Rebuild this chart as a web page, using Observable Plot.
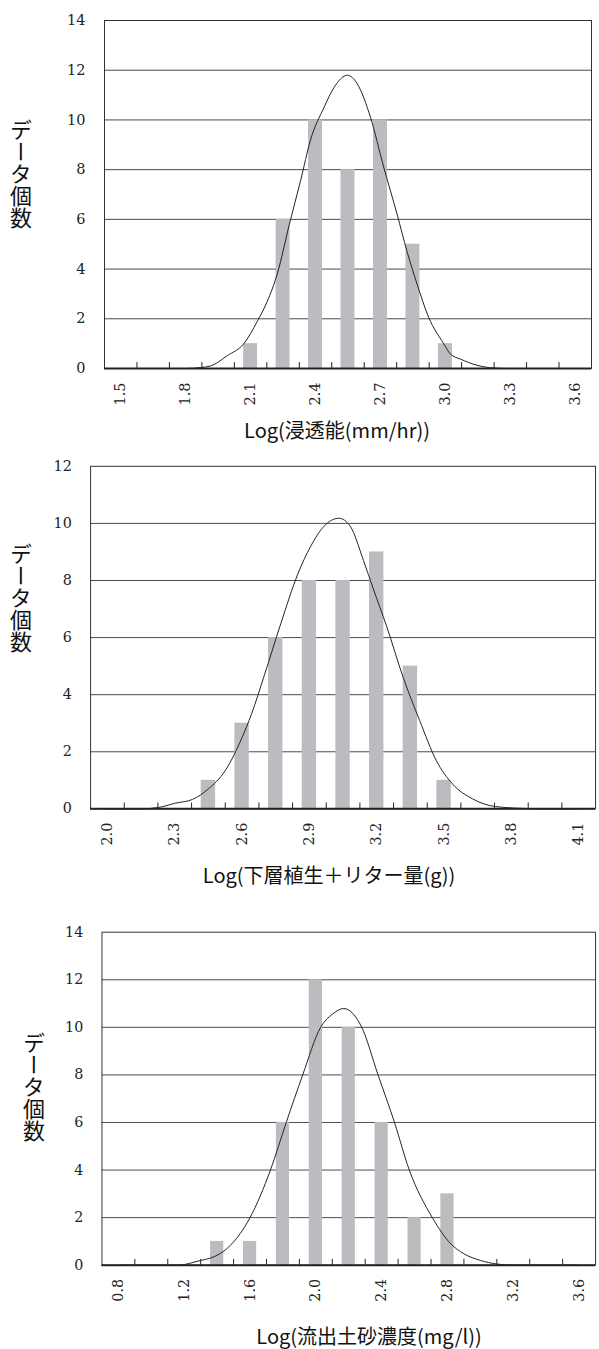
<!DOCTYPE html>
<html><head><meta charset="utf-8">
<script src="https://cdn.jsdelivr.net/npm/d3@7"></script>
<script src="https://cdn.jsdelivr.net/npm/@observablehq/plot@0.6"></script>
<style>
html,body{margin:0;padding:0;background:#fff;overflow:hidden;width:599px;height:1349px}
#root{position:relative;width:599px;height:1349px;overflow:hidden}
.chart{position:absolute;left:0}
.chart svg text{font-family:"DejaVu Serif",serif !important;font-size:14.5px !important;fill:#222}
.ylab{position:absolute;writing-mode:vertical-rl;font-family:"Noto Sans CJK JP";font-size:22px;line-height:22px;transform:translate(-50%,-50%);color:#111;white-space:nowrap}
.xlab{position:absolute;font-family:"Noto Sans CJK JP";font-size:20px;line-height:20px;transform:translate(-50%,-50%);white-space:nowrap;color:#111}
</style></head><body><div id="root"></div>
<script>
// ---- Chart 1: Log(浸透能(mm/hr)) ----
const cats1 = [1.5,1.65,1.8,1.95,2.1,2.25,2.4,2.55,2.7,2.85,3.0,3.15,3.3,3.45,3.6];
const counts1 = [0,0,0,0,1,6,10,8,10,5,1,0,0,0,0];
const ticks1 = [1.5,1.8,2.1,2.4,2.7,3.0,3.3,3.6];
const curveX1 = [1.5,1.65,1.8,1.87,1.915,1.993,2.069,2.131,2.177,2.223,2.279,2.331,2.377,2.439,2.485,2.547,2.593,2.654,2.715,2.777,2.823,2.869,2.923,2.992,3.023,3.069,3.146,3.223,3.3,3.45,3.6];
const curveY1 = [0,0,0,0.04,0.1,0.52,1.0,1.9,2.7,3.8,5.8,7.56,9.2,10.5,11.3,11.8,11.45,10.1,8.1,6.2,4.7,3.4,2.05,1.0,0.58,0.38,0.13,0.02,0,0,0];
const title1 = "Log(浸透能(mm/hr))";

// ---- Chart 2: Log(下層植生＋リター量(g)) ----
const cats2 = [2.0,2.15,2.3,2.45,2.6,2.75,2.9,3.05,3.2,3.35,3.5,3.65,3.8,3.95,4.1];
const counts2 = [0,0,0,1,3,6,8,8,9,5,1,0,0,0,0];
const ticks2 = [2.0,2.3,2.6,2.9,3.2,3.5,3.8,4.1];
const curveX2 = [2.0,2.15,2.229,2.303,2.379,2.45,2.524,2.6,2.641,2.7,2.773,2.847,2.906,2.965,3.031,3.082,3.141,3.185,3.244,3.318,3.391,3.465,3.538,3.627,3.73,3.876,3.95,4.1];
const curveY2 = [0,0,0.05,0.2,0.33,0.7,1.33,2.5,3.3,4.7,6.5,8.2,9.2,9.9,10.18,9.9,8.7,7.7,6.4,4.6,3.1,1.7,0.87,0.35,0.08,0.01,0,0];
const title2 = "Log(下層植生＋リター量(g))";

// ---- Chart 3: Log(流出土砂濃度(mg/l)) ----
const cats3 = [0.8,1.0,1.2,1.4,1.6,1.8,2.0,2.2,2.4,2.6,2.8,3.0,3.2,3.4,3.6];
const counts3 = [0,0,0,1,1,6,12,10,6,2,3,0,0,0,0];
const ticks3 = [0.8,1.2,1.6,2.0,2.4,2.8,3.2,3.6];
const curveX3 = [0.8,1.0,1.161,1.30,1.36,1.48,1.60,1.724,1.82,1.92,2.029,2.10,2.17,2.279,2.378,2.478,2.568,2.708,2.82,2.90,3.00,3.10,3.2,3.4,3.6];
const curveY3 = [0,0,0,0.2,0.3,0.83,2.0,4.0,6.0,8.0,10.0,10.55,10.79,10.0,8.0,6.0,4.0,2.0,0.9,0.48,0.2,0.05,0,0,0];
const title3 = "Log(流出土砂濃度(mg/l))";

const yLabel = "データ個数";

const tickShape = {draw(ctx, l) { ctx.moveTo(0, 0); ctx.lineTo(0, -l); }};
const serif = "'DejaVu Serif', serif";

function makeChart(cfg) {
  const {cats, counts, curveX, curveY, yMax, ticks} = cfg;
  const step = cats[1] - cats[0];
  const bars = cats.map((c, i) => ({x1: c - step / 2, x2: c + step / 2, y: counts[i]}));
  const curve = curveX.map((x, i) => ({x, y: curveY[i]}));
  const bounds = cats.slice(1).map((c, i) => (c + cats[i]) / 2);
  const yTicks = d3.range(0, yMax + 1, 2);
  return Plot.plot({
    width: cfg.width, height: cfg.height,
    marginLeft: cfg.marginLeft, marginRight: cfg.marginRight,
    marginTop: cfg.marginTop, marginBottom: cfg.marginBottom,
    x: {domain: [cats[0] - step / 2, cats[cats.length - 1] + step / 2]},
    y: {domain: [0, yMax]},
    style: {fontFamily: serif, fontSize: "14.5px", color: "#222", background: "white", overflow: "visible"},
    marks: [
      Plot.gridY(yTicks.filter(t => t > 0 && t < yMax), {stroke: "#4a4a4a", strokeOpacity: 1}),
      Plot.rectY(bars, {x1: "x1", x2: "x2", y: "y", fill: "#bbbcc0", insetLeft: cfg.barInset, insetRight: cfg.barInset}),
      Plot.line(curve, {x: "x", y: "y", curve: "monotone-x", stroke: "#222", strokeWidth: 1}),
      Plot.frame({stroke: "#333"}),
      Plot.ruleY([0], {stroke: "#222", strokeWidth: 2}),
      Plot.vector(bounds, {x: d => d, y: 0, length: 6, anchor: "start", shape: tickShape, stroke: "#222", strokeWidth: 1}),
      Plot.axisY(yTicks, {tickSize: 0, tickPadding: 19, label: null, fontSize: 14.5, fontFamily: serif}),
      Plot.axisX(ticks, {tickSize: 0, tickPadding: 14, tickRotate: -90, tickFormat: d3.format(".1f"), label: null, fontSize: 14.5, fontFamily: serif})
    ]
  });
}

const root = document.getElementById("root");
const configs = [
  {cats: cats1, counts: counts1, curveX: curveX1, curveY: curveY1, ticks: ticks1, yMax: 14, title: title1,
   top: 0, width: 599, height: 410, marginLeft: 104, marginRight: 8, marginTop: 20, marginBottom: 42, barInset: 9.25,
   ylabPos: [21, 173.5], xlabPos: [337, 430]},
  {cats: cats2, counts: counts2, curveX: curveX2, curveY: curveY2, ticks: ticks2, yMax: 12, title: title2,
   top: 446, width: 605, height: 408, marginLeft: 91, marginRight: 4, marginTop: 20, marginBottom: 42, barInset: 9.75,
   ylabPos: [21, 597.5], xlabPos: [329, 875]},
  {cats: cats3, counts: counts3, curveX: curveX3, curveY: curveY3, ticks: ticks3, yMax: 14, title: title3,
   top: 912, width: 608, height: 400, marginLeft: 103, marginRight: 4, marginTop: 20, marginBottom: 42, barInset: 10,
   ylabPos: [34, 1086.5], xlabPos: [369, 1336]}
];

for (const cfg of configs) {
  const wrap = document.createElement("div");
  wrap.className = "chart";
  wrap.style.top = cfg.top + "px";
  wrap.appendChild(makeChart(cfg));
  root.appendChild(wrap);

  const yl = document.createElement("div");
  yl.className = "ylab";
  yl.textContent = yLabel;
  yl.style.left = cfg.ylabPos[0] + "px";
  yl.style.top = cfg.ylabPos[1] + "px";
  root.appendChild(yl);

  const xl = document.createElement("div");
  xl.className = "xlab";
  xl.textContent = cfg.title;
  xl.style.left = cfg.xlabPos[0] + "px";
  xl.style.top = cfg.xlabPos[1] + "px";
  root.appendChild(xl);
}
</script></body></html>
